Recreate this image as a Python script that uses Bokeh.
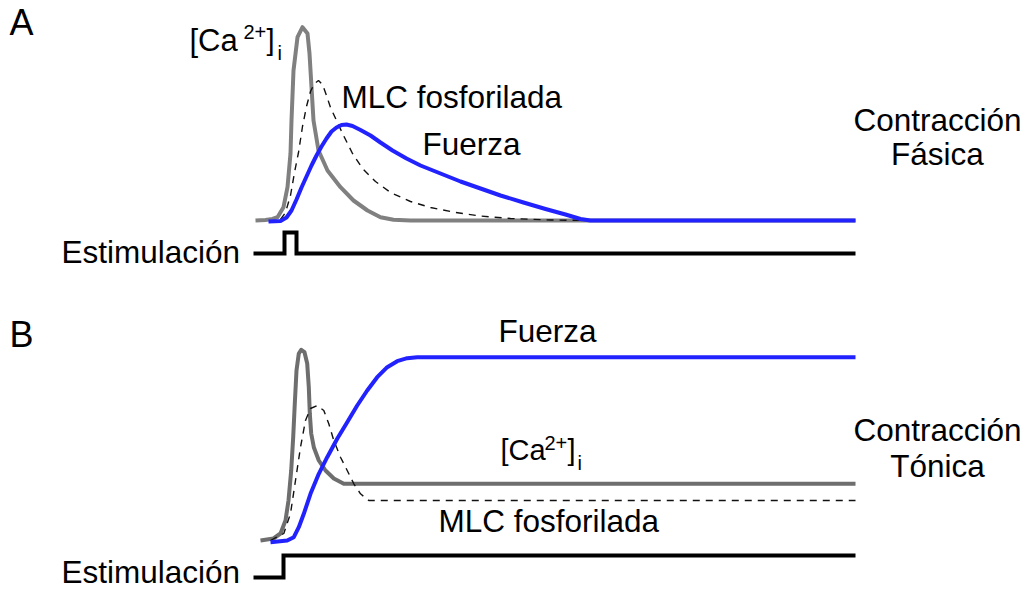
from bokeh.plotting import figure
from bokeh.models import Range1d
from bokeh.core.properties import value
from bokeh.embed import file_html
from bokeh.resources import INLINE

# ---------------- Panel A : phasic contraction ----------------
ca_A_t = [255, 265, 272, 277, 283, 287, 290, 291, 293, 297, 302, 307, 309, 311, 313, 318,
          327, 340, 353, 367, 380, 393, 410, 600, 855]
ca_A_y = [220, 219.5, 218.5, 216.7, 206.7, 186.7, 153, 120, 70, 36.7, 26.7, 33, 53, 86.7,
          120, 150, 170, 186.7, 200, 210, 216.7, 219.3, 220, 220, 220]

mlc_A_t = [280, 285, 290, 294, 298, 302, 306, 310, 314, 318, 322, 326, 330, 336, 343, 352,
           362, 375, 390, 410, 430, 455, 480, 510, 550, 590]
mlc_A_y = [219, 212, 195, 172, 152, 126, 106, 91, 83, 80, 84, 95, 107, 120, 135, 153,
           168, 181, 192, 201, 207, 212, 215.5, 218, 219.5, 220]

force_A_t = [268, 280, 286, 291, 296, 301, 306, 311, 316, 321, 326, 331, 336, 341, 346, 352,
             360, 370, 380, 392, 406, 420, 440, 460, 480, 500, 523, 545, 565, 580, 590, 855]
force_A_y = [221, 220.5, 217, 210, 199, 187, 176, 165, 155, 146, 138, 131, 127, 124.5, 124,
             125.5, 129.5, 135, 142, 150, 158, 165, 173, 181, 188, 195, 202, 208.5, 214,
             218.5, 220, 220]

stim_A_t = [253, 284, 284, 296, 296, 855]
stim_A_y = [253, 253, 232, 232, 253, 253]

# ---------------- Panel B : tonic contraction ----------------
ca_B_t = [260, 273, 280, 285, 288, 290.7, 292.7, 294.3, 296, 298.3, 300.7, 304, 306.7, 308.3,
          309.3, 310.7, 313.3, 318.3, 325, 333.3, 343.3, 855]
ca_B_y = [540, 538, 533, 520, 500, 470, 436.7, 403, 370, 353, 349.3, 351.7, 363, 386.7,
          413, 433, 446.7, 460, 470, 478, 483.3, 483.3]

mlc_B_t = [270, 283.3, 290, 295, 300, 305, 310, 316.7, 323.3, 328.3, 333.3, 340, 346.7,
           353.3, 360, 368.3, 855]
mlc_B_y = [540, 533, 513, 480, 446.7, 420, 408, 405, 410, 423.3, 440, 456.7, 470, 483.3,
           493.3, 500, 500]

force_B_t = [270, 286.7, 293.3, 298.3, 303.3, 310, 318.3, 326.7, 336.7, 346.7, 356.7, 366.7,
             376.7, 386.7, 396.7, 406.7, 416.7, 855]
force_B_y = [541.7, 540, 536.7, 526.7, 513.3, 493.3, 473.3, 456.7, 438.3, 421.7, 405, 390,
             376.7, 366.7, 360.7, 357.7, 356.7, 356.7]

stim_B_t = [253, 283, 283, 855]
stim_B_y = [577, 577, 555, 555]

# ---------------- Labels ----------------
big_labels = ["A", "B"]
big_x = [9, 9]
big_y = [22, 334]

left_labels = ["MLC fosforilada", "Fuerza", "Estimulación", "Fuerza", "MLC fosforilada",
               "Estimulación"]
left_x = [341, 422, 61, 498, 438, 61]
left_y = [96.5, 143.5, 251.5, 330, 520.5, 571]

center_labels = ["Contracción", "Fásica", "Contracción", "Tónica"]
center_x = [937, 937, 937, 937]
center_y = [119, 153.5, 429.5, 465.5]

ca_A_lbl = ["[Ca"]
ca_A_x = [189]
ca_A_yl = [39.5]
ca_B_lbl = ["[Ca"]
ca_B_x = [500]
ca_B_yl = [449.5]
sup_labels = ["2+", "2+"]
sup_x = [243, 544]
sup_y = [31.4, 442.4]
close_labels = ["]", "]"]
close_x = [266, 567]
close_y = [39.5, 449.5]
sub_labels = ["i", "i"]
sub_x = [277, 577]
sub_y = [52, 462.4]

FONT = value("Liberation Sans")

p = figure(width=1025, height=589, x_range=Range1d(0, 1025), y_range=Range1d(589, 0),
           output_backend="svg", toolbar_location=None, min_border=0,
           background_fill_color="white", border_fill_color="white")
p.axis.visible = False
p.grid.visible = False
p.outline_line_color = None

GRAY_A = "#808080"
GRAY_B = "#6e6e6e"
BLUE = "#2222ff"

# Panel A
p.line(ca_A_t, ca_A_y, line_color=GRAY_A, line_width=4, line_join="round")
p.line(mlc_A_t, mlc_A_y, line_color="#111111", line_width=1.4, line_dash="7 6")
p.line(force_A_t, force_A_y, line_color=BLUE, line_width=4, line_join="round")
p.line(stim_A_t, stim_A_y, line_color="black", line_width=4, line_join="miter")

# Panel B
p.line(ca_B_t, ca_B_y, line_color=GRAY_B, line_width=4, line_join="round")
p.line(mlc_B_t, mlc_B_y, line_color="#111111", line_width=1.4, line_dash="7 6")
p.line(force_B_t, force_B_y, line_color=BLUE, line_width=4, line_join="round")
p.line(stim_B_t, stim_B_y, line_color="black", line_width=4, line_join="miter")

p.text(big_x, big_y, text=big_labels, text_font=FONT, text_font_size=value("36px"),
       text_baseline="alphabetic", text_align="left", text_color="black")
p.text(left_x, left_y, text=left_labels, text_font=FONT, text_font_size=value("31.5px"),
       text_baseline="alphabetic", text_align="left", text_color="black")
p.text(center_x, center_y, text=center_labels, text_font=FONT, text_font_size=value("31.5px"),
       text_baseline="alphabetic", text_align="center", text_color="black")
p.text(ca_A_x, ca_A_yl, text=ca_A_lbl, text_font=FONT, text_font_size=value("31px"),
       text_baseline="alphabetic", text_align="left", text_color="black")
p.text(ca_B_x, ca_B_yl, text=ca_B_lbl, text_font=FONT, text_font_size=value("29px"),
       text_baseline="alphabetic", text_align="left", text_color="black")
p.text(close_x, close_y, text=close_labels, text_font=FONT, text_font_size=value("29px"),
       text_baseline="alphabetic", text_align="left", text_color="black")
p.text(sup_x, sup_y, text=sup_labels, text_font=FONT, text_font_size=value("20px"),
       text_baseline="alphabetic", text_align="left", text_color="black")
p.text(sub_x, sub_y, text=sub_labels, text_font=FONT, text_font_size=value("20px"),
       text_baseline="alphabetic", text_align="left", text_color="black")

open("out.html", "w").write(file_html(p, INLINE))
